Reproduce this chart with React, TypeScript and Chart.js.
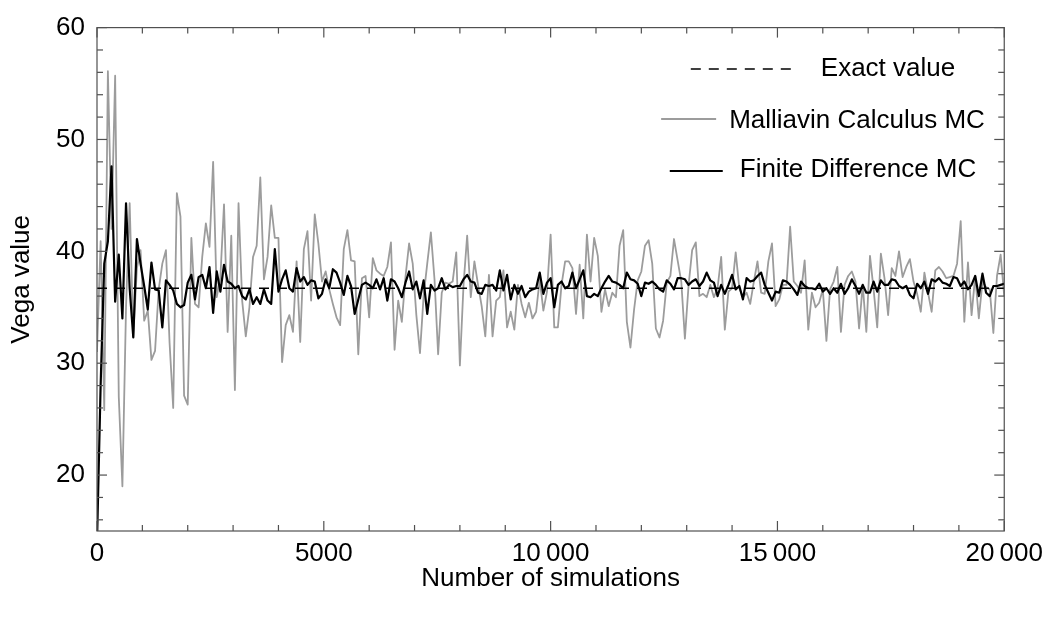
import { useEffect, useRef } from 'react';
import { Chart, registerables } from 'chart.js';

Chart.register(...registerables);

// ---------------- data ----------------
const EXACT_VALUE = 36.7;
const SIM_STEP = 80; // simulations between two samples

const MALLIAVIN_MC = [
  31, 40.9, 25.8, 56.1, 42, 55.7, 27.0, 19.0, 35, 44.3,
  32.4, 38.5, 40.1, 33.8, 34.7, 30.3, 31.1, 36.6, 38.9, 40.1,
  31.8, 26.0, 45.2, 43.1, 27.1, 26.3, 41.2, 35.3, 35.0, 39.5,
  42.5, 40.4, 48.0, 35.9, 37.7, 44.2, 32.8, 41.4, 27.6, 44.3,
  35.6, 32.4, 35.0, 39.5, 40.5, 46.6, 37.5, 39.5, 44.1, 41.2,
  41.2, 30.1, 33.4, 34.3, 32.8, 39.1, 31.9, 40.2, 41.8, 35.6,
  43.3, 40.7, 37.3, 38.2, 36.6, 35.3, 34.1, 33.4, 40.2, 41.9,
  39.2, 39.1, 30.8, 37.6, 37.8, 34.1, 39.4, 38.3, 38.0, 37.8,
  38.6, 40.8, 31.2, 35.6, 33.7, 37.7, 40.7, 38.9, 34.3, 30.9,
  36.0, 38.9, 41.7, 37.5, 30.8, 36.3, 37.2, 37.1, 37.3, 39.9,
  29.8, 37.0, 41.4, 35.9, 39.1, 37.0, 35.1, 32.4, 37.9, 32.4,
  35.6, 35.9, 38.3, 33.2, 34.6, 33.0, 37.0, 35.3, 34.1, 35.4,
  34.0, 34.6, 37.5, 34.7, 36.4, 41.5, 33.2, 33.2, 37.0, 39.1,
  39.1, 38.5, 34.4, 38.8, 34.0, 41.5, 37.3, 41.2, 39.6, 34.6,
  36.6, 35.1, 36.3, 35.9, 40.5, 41.9, 33.7, 31.4, 34.8, 37.4,
  38.2, 40.5, 41.0, 38.9, 33.1, 32.3, 33.8, 37.2, 37.8, 41.1,
  39.2, 37.3, 32.2, 36.9, 40.1, 40.8, 36.0, 36.2, 35.9, 37.0,
  35.9, 36.7, 39.5, 33.0, 36.4, 36.7, 39.9, 36.7, 35.9, 36.3,
  35.3, 37.3, 39.1, 36.3, 36.2, 39.1, 40.7, 35.1, 35.7, 37.0,
  37.0, 42.2, 37.3, 36.9, 36.3, 39.2, 33.0, 36.3, 35.0, 35.4,
  36.6, 32.0, 36.6, 37.3, 38.6, 32.8, 37.0, 37.8, 38.2, 37.3,
  33.1, 37.0, 32.8, 39.6, 36.6, 33.2, 39.8, 37.6, 34.3, 38.5,
  37.8, 40.0, 37.7, 38.6, 39.3, 37.3, 36.2, 34.6, 38.1, 36.3,
  34.6, 38.3, 38.6, 38.2, 37.6, 37.7, 37.8, 38.9, 42.7, 33.7,
  39.0, 34.3, 37.8, 34.0, 37.3, 36.8, 36.6, 32.7, 37.8, 39.7,
  36.0,
];

const FINITE_DIFF_MC = [
  14, 28, 38.9, 40.9, 47.6, 35.5, 39.7, 34.0, 44.3, 36.7,
  32.3, 41.1, 38.9, 36.9, 34.8, 39.0, 36.6, 36.5, 33.2, 37.4,
  37.0, 36.5, 35.3, 35.0, 35.2, 37.2, 37.9, 35.7, 37.7, 37.9,
  36.7, 38.6, 34.5, 38.2, 36.4, 38.8, 37.3, 37.1, 36.7, 36.9,
  36.0, 35.7, 36.6, 35.3, 35.9, 35.3, 36.6, 35.6, 35.3, 40.2,
  36.4, 37.5, 38.3, 36.7, 36.4, 38.5, 37.3, 37.7, 37.0, 37.4,
  37.3, 35.8, 36.2, 37.5, 36.7, 38.4, 38.1, 37.2, 36.1, 37.8,
  36.9, 34.4, 35.7, 37.0, 37.2, 37.0, 36.7, 37.5, 36.6, 37.6,
  35.6, 37.5, 37.3, 36.7, 35.9, 37.2, 38.2, 36.6, 37.3, 35.8,
  37.4, 34.4, 37.0, 36.5, 36.7, 37.6, 36.6, 37.0, 36.8, 36.9,
  36.9, 37.5, 37.9, 37.3, 37.2, 36.3, 36.2, 37.0, 36.9, 37.0,
  36.5, 38.3, 36.5, 37.9, 35.7, 37.0, 36.2, 36.9, 35.9, 36.4,
  36.6, 36.7, 38.1, 36.2, 37.2, 37.6, 35.0, 37.0, 37.3, 36.7,
  36.9, 38.1, 36.7, 37.5, 38.3, 36.0, 35.9, 36.2, 36.0, 36.7,
  37.3, 37.8, 37.3, 37.2, 37.0, 36.7, 38.1, 37.5, 37.4, 37.1,
  36.0, 37.2, 37.1, 37.3, 37.0, 36.6, 36.4, 37.4, 37.1, 36.6,
  37.6, 37.6, 37.5, 37.0, 37.3, 37.5, 36.9, 37.3, 38.1, 37.4,
  37.2, 36.0, 37.0, 36.2, 37.0, 37.9, 36.6, 36.9, 35.7, 37.6,
  37.3, 37.4, 37.8, 38.1, 37.0, 36.3, 35.6, 36.4, 36.3, 37.4,
  37.3, 37.0, 36.6, 36.1, 37.3, 36.9, 36.7, 36.7, 36.6, 37.1,
  36.4, 36.7, 36.2, 36.7, 36.3, 37.1, 36.2, 36.7, 37.5, 36.9,
  36.2, 37.0, 36.3, 36.3, 37.3, 36.4, 37.4, 37.0, 37.0, 37.5,
  37.4, 36.9, 36.7, 36.9, 36.1, 35.8, 37.1, 36.7, 37.3, 36.2,
  37.5, 37.3, 37.6, 37.2, 37.1, 36.9, 37.7, 37.6, 36.9, 37.3,
  36.6, 37.0, 37.8, 36.0, 38.0, 36.3, 36.0, 36.9, 36.9, 37.0,
  37.1,
];

const X_MIN = 0;
const X_MAX = 20000;
const Y_MIN = 15;
const Y_MAX = 60;
const X_TICK_VALUES = [0, 5000, 10000, 15000, 20000];
const X_TICK_LABELS = ['0', '5000', '10\u2009000', '15\u2009000', '20\u2009000'];
const Y_TICK_VALUES = [20, 30, 40, 50, 60];
const Y_TICK_LABELS = ['20', '30', '40', '50', '60'];
const X_MINOR_STEP = 1000;
const Y_MINOR_STEP = 2;

const SERIES_LABELS = ['Exact value', 'Malliavin Calculus MC', 'Finite Difference MC'];
const X_TITLE = 'Number of simulations';
const Y_TITLE = 'Vega value';

// ---------------- styling ----------------
const W = 1050;
const H = 619;
const FONT = "'Liberation Sans', Arial, Helvetica, sans-serif";
const FONT_SIZE = 26;
const FRAME_COLOR = '#505050';
const GRAY = '#9c9c9c';

const LEGEND_CX = 823;
const LEGEND_ROWS = [
  { lineLen: 103, gap: 27, lineY: 69, baseline: 75.5 },
  { lineLen: 55, gap: 13, lineY: 119, baseline: 127.5 },
  { lineLen: 53, gap: 17, lineY: 171, baseline: 177 },
];

const frameTicksPlugin = {
  id: 'frameTicks',
  afterDatasetsDraw(chart: any) {
    const { ctx, chartArea: a, scales } = chart;
    const xs = scales.x;
    const ys = scales.y;
    ctx.save();
    ctx.strokeStyle = FRAME_COLOR;
    ctx.lineWidth = 1.2;
    const seg = (x1: number, y1: number, x2: number, y2: number) => {
      ctx.beginPath();
      ctx.moveTo(x1, y1);
      ctx.lineTo(x2, y2);
      ctx.stroke();
    };
    for (let v = X_MIN; v <= X_MAX; v += X_MINOR_STEP) {
      const px = xs.getPixelForValue(v);
      const len = X_TICK_VALUES.includes(v) ? 10 : 6;
      seg(px, a.bottom, px, a.bottom - len);
      seg(px, a.top, px, a.top + len);
    }
    for (let v = 16; v <= Y_MAX; v += Y_MINOR_STEP) {
      const py = ys.getPixelForValue(v);
      const len = Y_TICK_VALUES.includes(v) ? 10 : 6;
      seg(a.left, py, a.left + len, py);
      seg(a.right, py, a.right - len, py);
    }
    ctx.strokeRect(a.left, a.top, a.right - a.left, a.bottom - a.top);
    ctx.restore();
  },
};

const legendPlugin = {
  id: 'frameLegend',
  afterDraw(chart: any) {
    const { ctx } = chart;
    ctx.save();
    ctx.font = `${FONT_SIZE}px ${FONT}`;
    ctx.fillStyle = '#000';
    ctx.textBaseline = 'alphabetic';
    ctx.textAlign = 'left';
    LEGEND_ROWS.forEach((row, i) => {
      const ds = chart.data.datasets[i];
      const tw = ctx.measureText(ds.label).width;
      const total = row.lineLen + row.gap + tw;
      const x0 = LEGEND_CX - total / 2;
      ctx.beginPath();
      ctx.setLineDash(ds.borderDash || []);
      ctx.strokeStyle = ds.borderColor;
      ctx.lineWidth = ds.borderWidth;
      ctx.moveTo(x0, row.lineY);
      ctx.lineTo(x0 + row.lineLen, row.lineY);
      ctx.stroke();
      ctx.setLineDash([]);
      ctx.fillText(ds.label, x0 + row.lineLen + row.gap, row.baseline);
    });
    ctx.restore();
  },
};

export default function App() {
  const ref = useRef<HTMLCanvasElement>(null);

  useEffect(() => {
    if (!ref.current) return;
    const exactData = [
      { x: X_MIN, y: EXACT_VALUE },
      { x: X_MAX, y: EXACT_VALUE },
    ];
    const mallData = MALLIAVIN_MC.map((v, i) => ({ x: i * SIM_STEP, y: v }));
    const fdData = FINITE_DIFF_MC.map((v, i) => ({ x: i * SIM_STEP, y: v }));

    const chart = new Chart(ref.current, {
      type: 'line',
      data: {
        datasets: [
          {
            label: SERIES_LABELS[0],
            data: exactData,
            borderColor: '#000000',
            borderWidth: 1.6,
            borderDash: [10, 8],
            pointRadius: 0,
            order: 1,
            clip: 0,
          },
          {
            label: SERIES_LABELS[1],
            data: mallData,
            borderColor: GRAY,
            borderWidth: 1.8,
            pointRadius: 0,
            borderJoinStyle: 'round',
            order: 2,
            clip: 0,
          },
          {
            label: SERIES_LABELS[2],
            data: fdData,
            borderColor: '#000000',
            borderWidth: 2.2,
            pointRadius: 0,
            borderJoinStyle: 'round',
            order: 0,
            clip: 0,
          },
        ],
      } as any,
      options: {
        responsive: false,
        animation: false,
        devicePixelRatio: 1,
        parsing: false,
        normalized: true,
        layout: { padding: { left: 0, right: 43, top: 18, bottom: 0 } },
        plugins: {
          legend: { display: false },
          tooltip: { enabled: false },
          title: { display: false },
        },
        font: { family: FONT, size: FONT_SIZE },
        scales: {
          x: {
            type: 'linear',
            min: X_MIN,
            max: X_MAX,
            afterBuildTicks: (s: any) => {
              s.ticks = X_TICK_VALUES.map((v) => ({ value: v }));
            },
            afterFit: (s: any) => {
              s.height = 88;
            },
            grid: { display: false, drawTicks: false },
            border: { display: false },
            ticks: {
              autoSkip: false,
              maxRotation: 0,
              padding: 7,
              color: '#000',
              font: { family: FONT, size: FONT_SIZE },
              callback: (_v: any, i: number) => X_TICK_LABELS[i],
            },
            title: {
              display: true,
              text: X_TITLE,
              color: '#000',
              font: { family: FONT, size: FONT_SIZE },
              padding: { top: 0, bottom: 25 },
            },
          },
          y: {
            type: 'linear',
            min: Y_MIN,
            max: Y_MAX,
            afterBuildTicks: (s: any) => {
              s.ticks = Y_TICK_VALUES.map((v) => ({ value: v }));
            },
            afterFit: (s: any) => {
              s.width = 97;
            },
            grid: { display: false, drawTicks: false },
            border: { display: false },
            ticks: {
              padding: 12,
              color: '#000',
              font: { family: FONT, size: FONT_SIZE },
              callback: (_v: any, i: number) => Y_TICK_LABELS[i],
            },
            title: {
              display: true,
              text: Y_TITLE,
              color: '#000',
              font: { family: FONT, size: FONT_SIZE },
              padding: { top: 6, bottom: 0 },
            },
          },
        },
      } as any,
      plugins: [frameTicksPlugin, legendPlugin],
    });
    return () => chart.destroy();
  }, []);

  return (
    <div
      style={{
        position: 'fixed',
        left: 0,
        top: 0,
        width: W,
        height: H,
        background: '#ffffff',
      }}
    >
      <canvas ref={ref} width={W} height={H} style={{ display: 'block', width: W, height: H }} />
    </div>
  );
}
